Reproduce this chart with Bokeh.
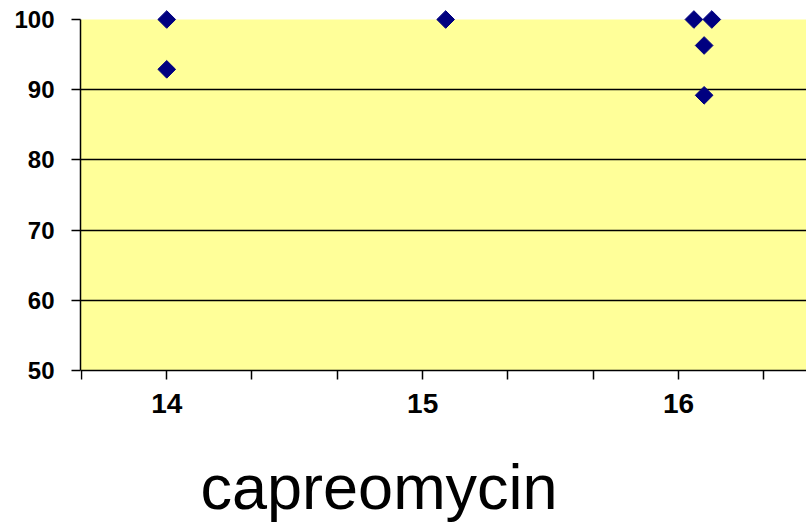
from bokeh.plotting import figure
from bokeh.models import FixedTicker, Label, BoxAnnotation
from bokeh.embed import file_html
from bokeh.resources import INLINE

# data
x_vals = [14.0, 14.0, 15.09, 16.06, 16.13, 16.1, 16.1]
y_vals = [100, 92.9, 100, 100, 100, 96.3, 89.2]
x_ticks = [13.667, 14, 14.333, 14.667, 15, 15.333, 15.667, 16, 16.333]
x_tick_labels = {14: "14", 15: "15", 16: "16"}
y_ticks = [50, 60, 70, 80, 90, 100]
grid_ticks = [60, 70, 80, 90]
title_text = "capreomycin"

Y_MIN, Y_MAX = 50, 100
px_per_unit = 351 / 50.0  # frame: 100 at y=19, 50 at y=370
y_lo = Y_MIN - (526 - 370) / px_per_unit
y_hi = Y_MAX + 19 / px_per_unit

p = figure(width=806, height=526, output_backend="svg", toolbar_location=None,
           x_range=(13.663, 16.5), y_range=(y_lo, y_hi),
           min_border_left=80, min_border_top=0, min_border_right=0, min_border_bottom=0)
p.outline_line_color = None
p.background_fill_color = "white"
p.border_fill_color = "white"

p.add_layout(BoxAnnotation(bottom=Y_MIN, top=Y_MAX, fill_color="#FFFF99", fill_alpha=1.0,
                           line_color=None, level="image"))

p.xgrid.visible = False
p.ygrid.ticker = FixedTicker(ticks=grid_ticks)
p.ygrid.grid_line_color = "black"
p.ygrid.grid_line_width = 1.5

overrides = {}
for t in x_ticks:
    key = round(t)
    overrides[t] = x_tick_labels[key] if abs(t - key) < 1e-6 else ""
p.xaxis.ticker = FixedTicker(ticks=x_ticks)
p.xaxis.major_label_overrides = overrides
p.xaxis.fixed_location = Y_MIN
p.yaxis.ticker = FixedTicker(ticks=y_ticks)
p.yaxis.bounds = (Y_MIN, Y_MAX)

for ax in (p.xaxis, p.yaxis):
    ax.axis_line_color = "black"
    ax.axis_line_width = 1.5
    ax.major_tick_line_color = "black"
    ax.major_tick_line_width = 1.5
    ax.major_tick_in = 0
    ax.major_tick_out = 9
    ax.minor_tick_line_color = None
    ax.major_label_text_font = "Liberation Sans"
    ax.major_label_text_font_style = "bold"
    ax.major_label_text_color = "black"
p.xaxis.major_label_text_font_size = "28px"
p.yaxis.major_label_text_font_size = "24px"
p.xaxis.major_label_standoff = 14
p.yaxis.major_label_standoff = 17

p.scatter(x_vals, y_vals, marker="square", angle=0.785398, size=12.5,
          fill_color="#000080", line_color="#000080")

p.add_layout(Label(x=120, y=40, x_units="screen", y_units="screen", text=title_text,
                   text_font="Liberation Sans", text_font_size="63px", text_color="black",
                   text_baseline="alphabetic", text_align="left"))

open("out.html", "w").write(file_html(p, INLINE))
